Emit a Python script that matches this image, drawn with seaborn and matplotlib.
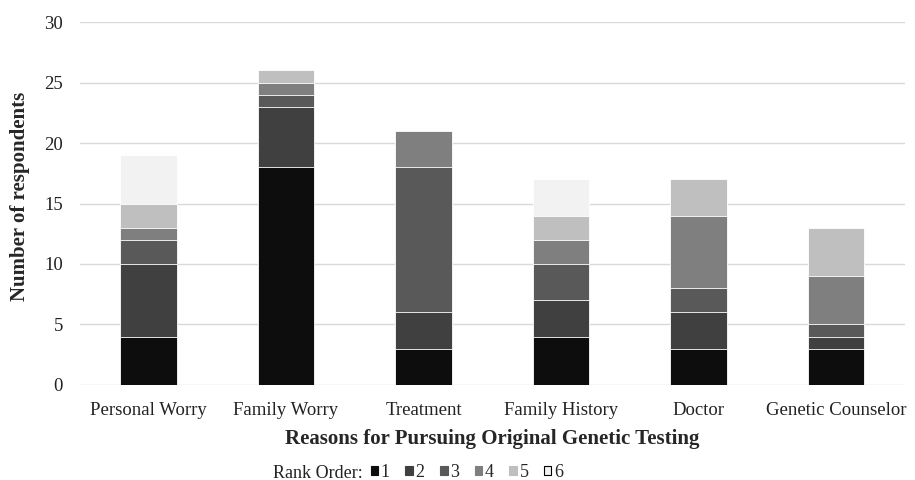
import numpy as np
import pandas as pd
import matplotlib
matplotlib.use("Agg")
import matplotlib.pyplot as plt
from matplotlib.patches import Patch
import seaborn as sns

reasons = ["Personal Worry", "Family Worry", "Treatment", "Family History",
           "Doctor", "Genetic Counselor"]
ranks = ["1", "2", "3", "4", "5", "6"]
rank1 = [4, 18, 3, 4, 3, 3]
rank2 = [6, 5, 3, 3, 3, 1]
rank3 = [2, 1, 12, 3, 2, 1]
rank4 = [1, 1, 3, 2, 6, 4]
rank5 = [2, 1, 0, 2, 3, 4]
rank6 = [4, 0, 0, 3, 0, 0]
greys = ["#0d0d0d", "#404040", "#595959", "#7f7f7f", "#bfbfbf", "#f2f2f2"]

sns.set_theme(style="white")
plt.rcParams["font.family"] = ["Liberation Serif", "DejaVu Serif"]

df = pd.DataFrame({"reason": reasons, "1": rank1, "2": rank2, "3": rank3,
                   "4": rank4, "5": rank5, "6": rank6})
cum = df[ranks].cumsum(axis=1)

fig = plt.figure(figsize=(9.15, 4.8), dpi=100)
ax = fig.add_axes([0.087, 0.198, 0.902, 0.756])

# stack by overlapping cumulative totals, tallest first
for r, c in reversed(list(zip(ranks, greys))):
    sns.barplot(x=df["reason"], y=cum[r], color=c, width=0.41,
                edgecolor="white", linewidth=0.6, saturation=1, ax=ax)

ax.set_ylim(0, 30)
ax.set_yticks(range(0, 31, 5))
ax.set_xlim(-0.5, 5.5)
ax.yaxis.grid(True, color="#d9d9d9", linewidth=1)
ax.set_axisbelow(True)
for s in ax.spines.values():
    s.set_visible(False)
ax.tick_params(axis="both", length=0, labelsize=13.5, colors="#222222")
ax.tick_params(axis="y", pad=12)
ax.tick_params(axis="x", pad=12.5)
ax.set_ylabel("Number of respondents", fontsize=15, fontweight="bold")
ax.yaxis.set_label_coords(-0.060, 0.52)
ax.set_xlabel("Reasons for Pursuing Original Genetic Testing", fontsize=15,
              fontweight="bold", labelpad=7)

fig.text(0.298, 0.014, "Rank Order:", fontsize=13, ha="left", va="center",
         color="#222222")
handles = []
for r, c in zip(ranks, greys):
    handles.append(Patch(facecolor=c, edgecolor="black" if r == "6" else c, linewidth=0.8))
fig.legend(handles, ranks, loc="center left", bbox_to_anchor=(0.405, 0.016),
           ncol=6, frameon=False, fontsize=13, handlelength=0.42,
           handleheight=0.42, handletextpad=0.15, columnspacing=0.85,
           borderpad=0, borderaxespad=0)

fig.savefig("out.png", dpi=100)
